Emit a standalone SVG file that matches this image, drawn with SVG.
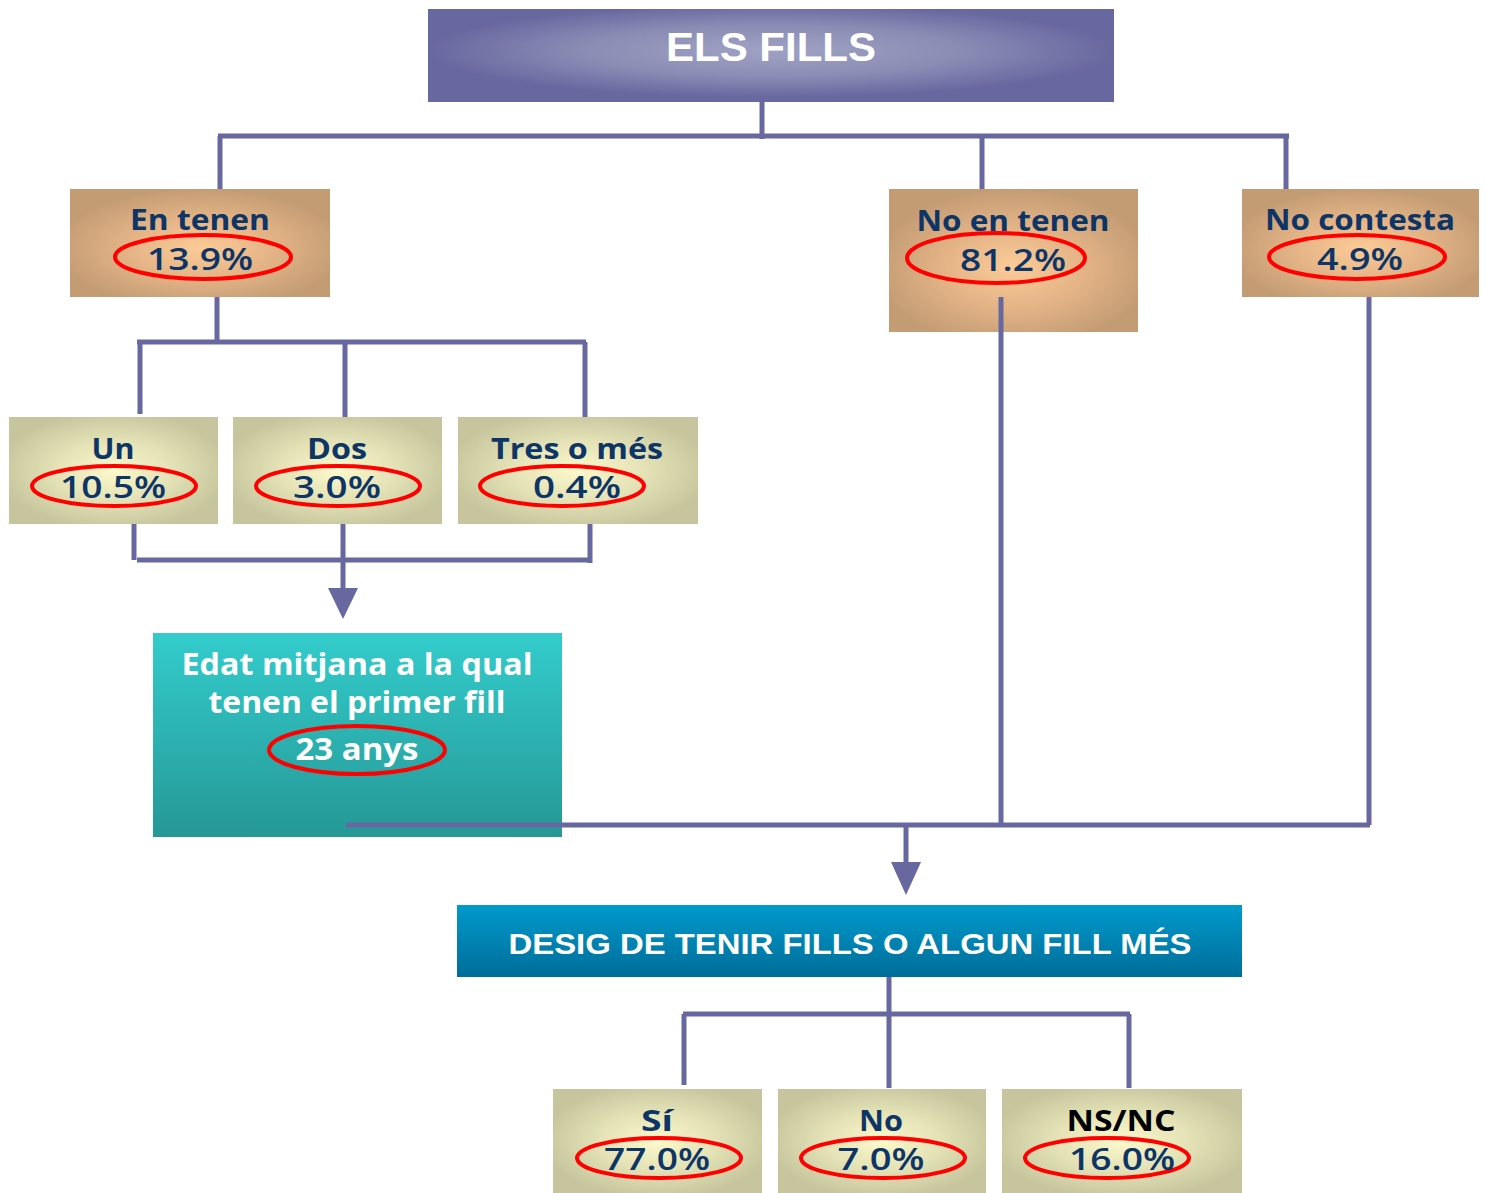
<svg xmlns="http://www.w3.org/2000/svg" width="1486" height="1193" viewBox="0 0 1486 1193">
<defs>
<radialGradient id="gTitle" cx="0.5" cy="0.45" r="0.5">
<stop offset="0" stop-color="#a0a2c4"/>
<stop offset="0.55" stop-color="#8a8cb4"/>
<stop offset="1" stop-color="#6868a0"/>
</radialGradient>
<radialGradient id="gTan" cx="0.5" cy="0.55" r="0.55">
<stop offset="0" stop-color="#fccb97"/>
<stop offset="0.5" stop-color="#e4b487"/>
<stop offset="1" stop-color="#c49c74"/>
</radialGradient>
<radialGradient id="gKhaki" cx="0.5" cy="0.5" r="0.55">
<stop offset="0" stop-color="#fcfacb"/>
<stop offset="0.5" stop-color="#e4e2b6"/>
<stop offset="1" stop-color="#c6c59d"/>
</radialGradient>
<linearGradient id="gTeal" x1="0" y1="0" x2="0" y2="1">
<stop offset="0" stop-color="#33cccc"/>
<stop offset="1" stop-color="#259896"/>
</linearGradient>
<linearGradient id="gBlue" x1="0" y1="0" x2="0" y2="1">
<stop offset="0" stop-color="#009acc"/>
<stop offset="1" stop-color="#006d99"/>
</linearGradient>
<style>
.lbl{font-family:"Open Sans","Liberation Sans",sans-serif;font-weight:bold;font-size:29px;fill:#0d3566;text-anchor:middle}
.pct{font-family:"Open Sans","Liberation Sans",sans-serif;font-weight:600;font-size:30px;fill:#0d3566;text-anchor:middle}
.wht{font-family:"Open Sans","Liberation Sans",sans-serif;font-weight:bold;font-size:30px;fill:#ffffff;text-anchor:middle}
.ttl{font-family:"Liberation Sans",sans-serif;font-weight:bold;fill:#ffffff;text-anchor:middle}
.ell{fill:none;stroke:#ff0000;stroke-width:4}
.con{fill:none;stroke:#6868a0;stroke-width:5}
.arw{fill:#6868a0}
</style>
</defs>
<rect width="1486" height="1193" fill="#ffffff"/>

<g id="node-title">
<rect x="428" y="9" width="686" height="93" fill="url(#gTitle)"/>
<text class="ttl" x="771" y="61" font-size="40" textLength="210" lengthAdjust="spacingAndGlyphs">ELS FILLS</text>
</g>

<g id="node-en-tenen">
<rect x="70" y="189" width="260" height="108" fill="url(#gTan)"/>
<text class="lbl" x="200" y="230" textLength="140" lengthAdjust="spacingAndGlyphs">En tenen</text>
<ellipse class="ell" cx="203" cy="257" rx="88" ry="22"/>
<text class="pct" x="200" y="270" textLength="106" lengthAdjust="spacingAndGlyphs">13.9%</text>
</g>

<g id="node-no-en-tenen">
<rect x="889" y="189" width="249" height="143" fill="url(#gTan)"/>
<text class="lbl" x="1013" y="231" textLength="193" lengthAdjust="spacingAndGlyphs">No en tenen</text>
<ellipse class="ell" cx="996" cy="258" rx="89" ry="25"/>
<text class="pct" x="1013" y="271" textLength="106" lengthAdjust="spacingAndGlyphs">81.2%</text>
</g>

<g id="node-no-contesta">
<rect x="1242" y="189" width="237" height="108" fill="url(#gTan)"/>
<text class="lbl" x="1360" y="230" textLength="190" lengthAdjust="spacingAndGlyphs">No contesta</text>
<ellipse class="ell" cx="1357" cy="257" rx="88" ry="22"/>
<text class="pct" x="1360" y="270" textLength="86" lengthAdjust="spacingAndGlyphs">4.9%</text>
</g>

<g id="node-un">
<rect x="9" y="417" width="209" height="107" fill="url(#gKhaki)"/>
<text class="lbl" x="113" y="459" textLength="43" lengthAdjust="spacingAndGlyphs">Un</text>
<ellipse class="ell" cx="114" cy="486" rx="82" ry="20"/>
<text class="pct" x="113" y="498" textLength="106" lengthAdjust="spacingAndGlyphs">10.5%</text>
</g>

<g id="node-dos">
<rect x="233" y="417" width="209" height="107" fill="url(#gKhaki)"/>
<text class="lbl" x="337" y="459" textLength="60" lengthAdjust="spacingAndGlyphs">Dos</text>
<ellipse class="ell" cx="338" cy="486" rx="82" ry="20"/>
<text class="pct" x="337" y="498" textLength="88" lengthAdjust="spacingAndGlyphs">3.0%</text>
</g>

<g id="node-tres">
<rect x="458" y="417" width="240" height="107" fill="url(#gKhaki)"/>
<text class="lbl" x="577" y="459" textLength="172" lengthAdjust="spacingAndGlyphs">Tres o més</text>
<ellipse class="ell" cx="562" cy="486" rx="82" ry="20"/>
<text class="pct" x="577" y="498" textLength="88" lengthAdjust="spacingAndGlyphs">0.4%</text>
</g>

<g id="node-edat">
<rect x="153" y="633" width="409" height="204" fill="url(#gTeal)"/>
<text class="wht" x="357" y="675" textLength="351" lengthAdjust="spacingAndGlyphs">Edat mitjana a la qual</text>
<text class="wht" x="357" y="713" textLength="297" lengthAdjust="spacingAndGlyphs">tenen el primer fill</text>
<ellipse class="ell" cx="357" cy="750" rx="88" ry="24"/>
<text class="wht" x="357" y="760" textLength="123" lengthAdjust="spacingAndGlyphs">23 anys</text>
</g>

<g id="node-desig">
<rect x="457" y="905" width="785" height="72" fill="url(#gBlue)"/>
<text class="ttl" x="850" y="954" font-size="30" textLength="683" lengthAdjust="spacingAndGlyphs">DESIG DE TENIR FILLS O ALGUN FILL MÉS</text>
</g>

<g id="node-si">
<rect x="553" y="1089" width="209" height="104" fill="url(#gKhaki)"/>
<text class="lbl" x="657" y="1131" textLength="32" lengthAdjust="spacingAndGlyphs">Sí</text>
<ellipse class="ell" cx="659" cy="1158" rx="82" ry="20"/>
<text class="pct" x="657" y="1170" textLength="106" lengthAdjust="spacingAndGlyphs">77.0%</text>
</g>

<g id="node-no">
<rect x="778" y="1089" width="208" height="104" fill="url(#gKhaki)"/>
<text class="lbl" x="881" y="1131" textLength="44" lengthAdjust="spacingAndGlyphs">No</text>
<ellipse class="ell" cx="883" cy="1158" rx="82" ry="20"/>
<text class="pct" x="881" y="1170" textLength="87" lengthAdjust="spacingAndGlyphs">7.0%</text>
</g>

<g id="node-nsnc">
<rect x="1002" y="1089" width="240" height="104" fill="url(#gKhaki)"/>
<text class="lbl" x="1121" y="1131" textLength="109" lengthAdjust="spacingAndGlyphs" style="fill:#000000">NS/NC</text>
<ellipse class="ell" cx="1107" cy="1158" rx="82" ry="20"/>
<text class="pct" x="1122" y="1170" textLength="106" lengthAdjust="spacingAndGlyphs">16.0%</text>
</g>

<g id="connectors">
<path class="con" d="M762,102 V139"/>
<path class="con" d="M218,136 H1289"/>
<path class="con" d="M220,136 V189 M982,136 V189 M1286,136 V189"/>
<path class="con" d="M217,297 V342 M137,342 H586 M140,342 V414 M345,342 V417 M585,342 V417"/>
<path class="con" d="M134,524 V560 M590,524 V563 M137,560 H590"/>
<path class="con" d="M343,524 V592"/>
<polygon class="arw" points="328,588 358,588 343,619"/>
<path class="con" d="M346,825 H1370 M1001,297 V825 M1369,297 V825"/>
<path class="con" d="M906,825 V866"/>
<polygon class="arw" points="891,862 921,862 906,895"/>
<path class="con" d="M889,977 V1088 M683,1014 H1130 M684,1014 V1085 M1129,1014 V1088"/>
</g>
</svg>
